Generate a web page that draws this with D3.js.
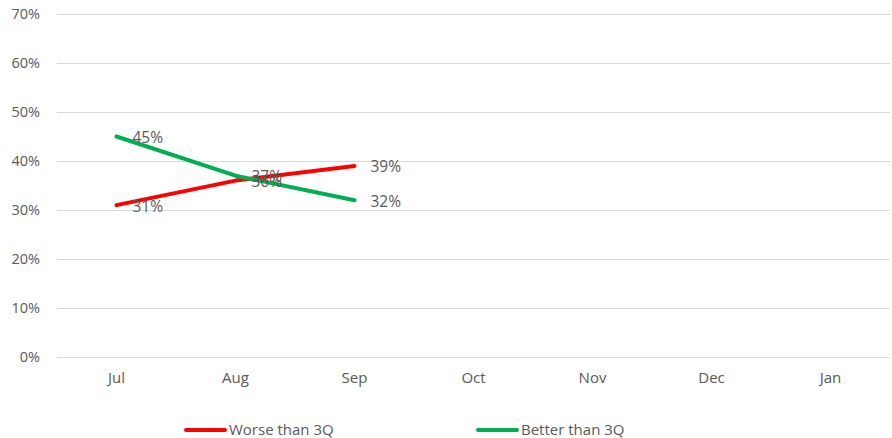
<!DOCTYPE html>
<html>
<head>
<meta charset="utf-8">
<script src="https://cdn.jsdelivr.net/npm/d3@7"></script>
<style>
  body { margin: 0; background: #fff; }
  svg text { font-family: "Open Sans", Lato, sans-serif; fill: #595959; }
</style>
</head>
<body>
<svg id="chart" width="892" height="438"></svg>
<script>
const months = ["Jul", "Aug", "Sep", "Oct", "Nov", "Dec", "Jan"];
const yTicks = [0, 0.1, 0.2, 0.3, 0.4, 0.5, 0.6, 0.7];
const worseValues = [0.31, 0.36, 0.39];
const betterValues = [0.45, 0.37, 0.32];
const seriesNames = ["Worse than 3Q", "Better than 3Q"];
const seriesColors = ["#FF0000", "#00B050"];

const FONT = "'Open Sans', Lato, sans-serif";
const svg = d3.select("#chart");
const margin = { left: 57, right: 2, top: 14, bottom: 81 };
const W = 892, H = 438;

const x = d3.scaleBand().domain(months).range([margin.left, W - margin.right]).padding(0);
const y = d3.scaleLinear().domain([0, 0.7]).range([H - margin.bottom, margin.top]);

// horizontal gridlines
svg.append("g").selectAll("line").data(yTicks).join("line")
  .attr("x1", margin.left).attr("x2", W - margin.right)
  .attr("y1", d => y(d) + 0.5).attr("y2", d => y(d) + 0.5)
  .attr("stroke", "#d9d9d9").attr("stroke-width", 1);

// y axis labels
const yAxis = d3.axisLeft(y).tickValues(yTicks).tickFormat(d3.format(".0%")).tickSize(0).tickPadding(0);
const gy = svg.append("g").attr("transform", `translate(${margin.left - 17},0)`).call(yAxis);
gy.select(".domain").remove();
gy.selectAll("text").attr("font-size", 14.5).style("font-family", FONT).attr("fill", "#595959");

// x axis labels
const xAxis = d3.axisBottom(x).tickSize(0).tickPadding(0);
const gx = svg.append("g").attr("transform", `translate(0,${y(0) + 15})`).call(xAxis);
gx.select(".domain").remove();
gx.selectAll("text").attr("font-size", 15).style("font-family", FONT).attr("fill", "#595959");

const cx = m => x(m) + x.bandwidth() / 2;
const line = d3.line().x(d => cx(d.m)).y(d => y(d.v));

const series = [worseValues, betterValues].map((vals, i) => ({
  name: seriesNames[i],
  color: seriesColors[i],
  points: vals.map((v, j) => ({ m: months[j], v }))
}));

// series lines
svg.append("g").selectAll("path").data(series).join("path")
  .attr("d", d => line(d.points))
  .attr("fill", "none")
  .attr("stroke", d => d.color)
  .attr("stroke-width", 4)
  .attr("stroke-linecap", "round")
  .attr("stroke-linejoin", "round");

// data labels to the right of each point
series.forEach(s => {
  svg.append("g").selectAll("text").data(s.points).join("text")
    .attr("x", d => cx(d.m) + 16)
    .attr("y", d => y(d.v) + 1)
    .attr("dy", "0.35em")
    .attr("font-size", 15.5)
    .text(d => d3.format(".0%")(d.v));
});

// legend
const legendItems = [{ x: 186 }, { x: 478 }];
const lg = svg.append("g").selectAll("g").data(series).join("g")
  .attr("transform", (d, i) => `translate(${legendItems[i].x},430)`);
lg.append("line").attr("x1", 0).attr("x2", 39).attr("y1", 0).attr("y2", 0)
  .attr("stroke", d => d.color).attr("stroke-width", 4).attr("stroke-linecap", "round");
lg.append("text").attr("x", 43).attr("y", 0).attr("dy", "0.35em")
  .attr("font-size", 15).text(d => d.name);
</script>
</body>
</html>
